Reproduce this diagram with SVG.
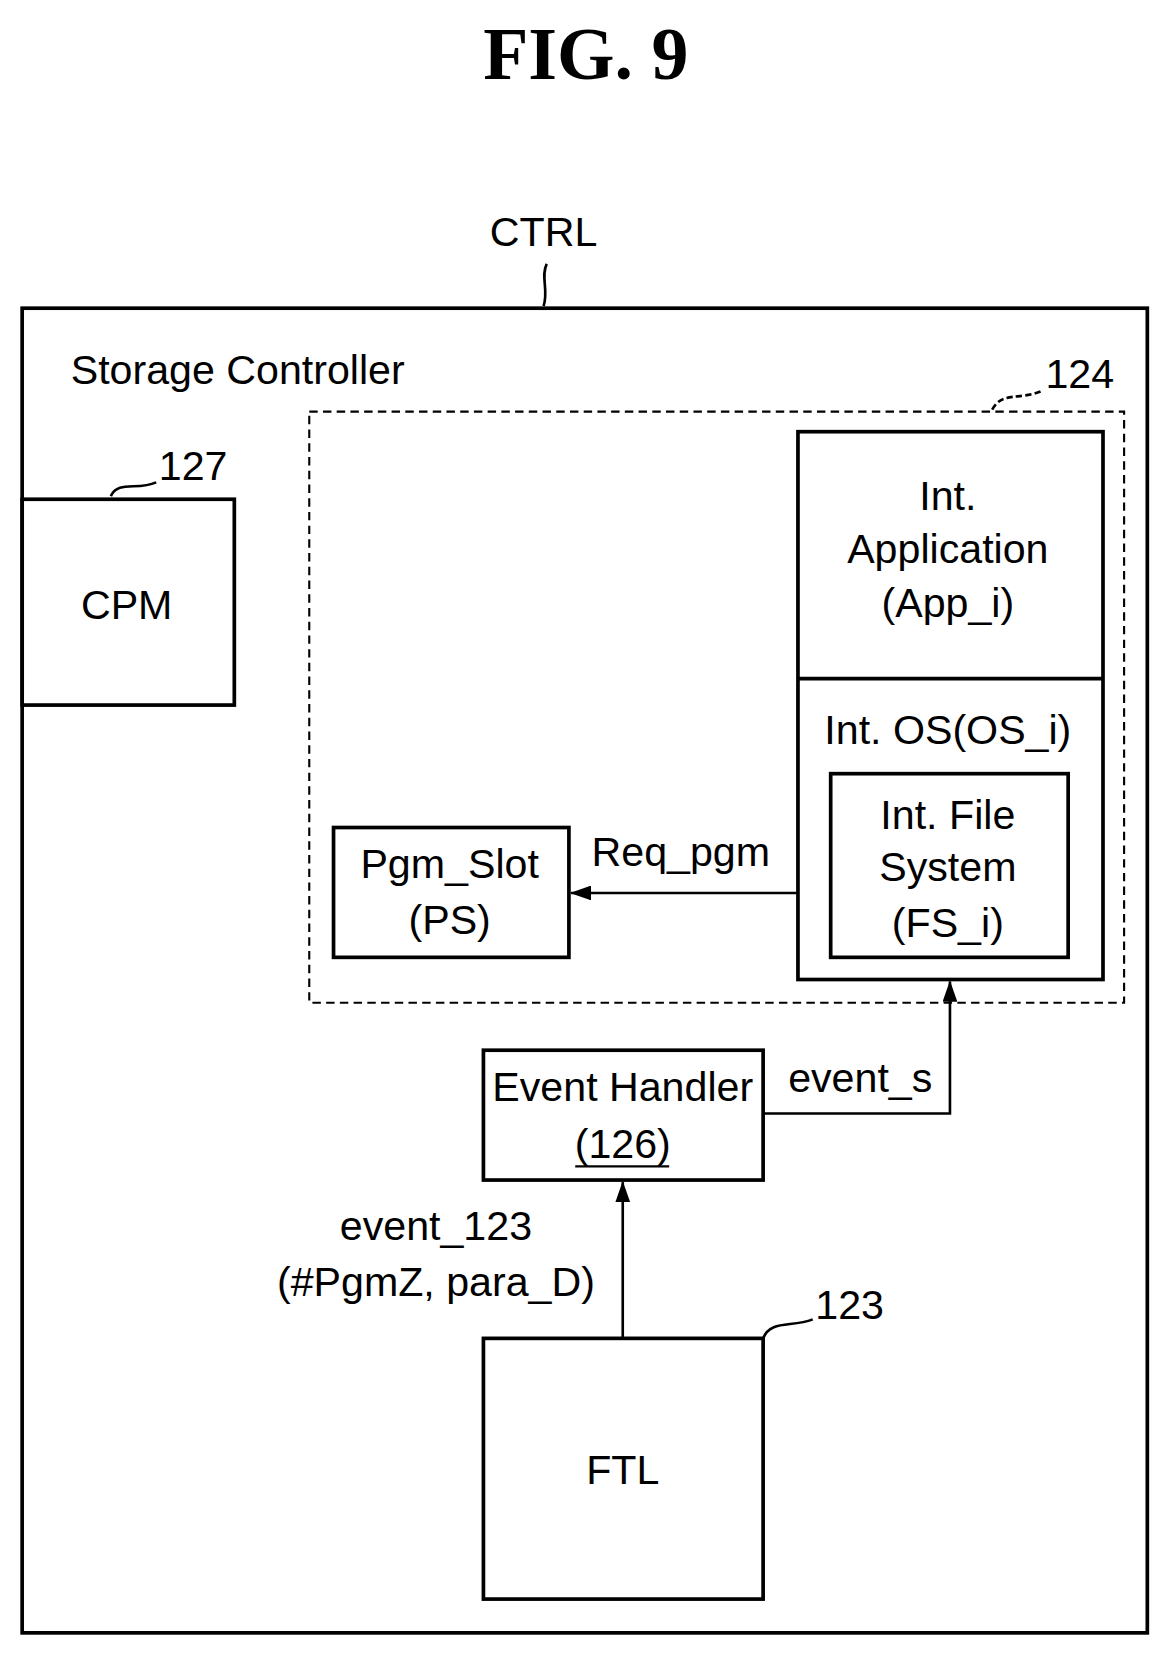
<svg xmlns="http://www.w3.org/2000/svg" width="1169" height="1654" viewBox="0 0 1169 1654">
<defs>
<style>
.t{font-family:"Liberation Sans",Arial,sans-serif;font-size:39px;fill:#000;text-anchor:middle}
.b{fill:none;stroke:#000;stroke-width:3.5}
.l{fill:none;stroke:#000;stroke-width:2.5}
</style>
<marker id="ah" markerWidth="10" markerHeight="8" refX="9" refY="4" orient="auto" markerUnits="userSpaceOnUse" viewBox="0 0 10 8"><path d="M0,0 L10,4 L0,8 Z" fill="#000"/></marker>
<marker id="ah2" markerWidth="20" markerHeight="14" refX="19" refY="7" orient="auto" markerUnits="userSpaceOnUse" viewBox="0 0 20 14"><path d="M0,0 L20,7 L0,14 Z" fill="#000"/></marker>
</defs>
<rect width="1169" height="1654" fill="#fff"/>
<g transform="scale(1.0555)">
<text x="555" y="75" style="font-family:'Liberation Serif',serif;font-weight:bold;font-size:70px;text-anchor:middle">FIG. 9</text>
<g id="ctrl">
<rect class="b" x="21" y="292" width="1066" height="1255" stroke-width="4"/>
<text class="t" x="515" y="233">CTRL</text>
<path class="l" d="M518,250 C512,262 520,275 515,290"/>
<text class="t" x="67" y="364" style="text-anchor:start">Storage Controller</text>
</g>
<g id="n124">
<rect x="293" y="390" width="772" height="560" fill="none" stroke="#000" stroke-width="2" stroke-dasharray="8,5"/>
<text class="t" x="1023" y="368">124</text>
<path class="l" d="M940,388 C950,370 965,380 988,370" stroke-dasharray="6,3"/>
</g>
<g id="cpm">
<rect class="b" x="21" y="473" width="201" height="195"/>
<text class="t" x="120" y="586">CPM</text>
<text class="t" x="183" y="455">127</text>
<path class="l" d="M105,470 C112,455 130,465 148,457"/>
</g>
<g id="app">
<rect class="b" x="756" y="409" width="289" height="519"/>
<line class="b" x1="756" y1="643" x2="1045" y2="643"/>
<text class="t" x="898" y="483">Int.</text>
<text class="t" x="898" y="533">Application</text>
<text class="t" x="898" y="585">(App_i)</text>
<text class="t" x="898" y="705">Int. OS(OS_i)</text>
</g>
<g id="fs">
<rect class="b" x="787" y="733" width="225" height="174"/>
<text class="t" x="898" y="785">Int. File</text>
<text class="t" x="898" y="835">System</text>
<text class="t" x="898" y="888">(FS_i)</text>
</g>
<g id="ps">
<rect class="b" x="316" y="784" width="223" height="123"/>
<text class="t" x="426" y="832">Pgm_Slot</text>
<text class="t" x="426" y="885">(PS)</text>
</g>
<g id="eh">
<rect class="b" x="458" y="995" width="265" height="123"/>
<text class="t" x="590" y="1043">Event Handler</text>
<text class="t" x="590" y="1097">(126)</text>
<line x1="545" y1="1105" x2="634" y2="1105" stroke="#000" stroke-width="2"/>
</g>
<g id="ftl">
<rect class="b" x="458" y="1268" width="265" height="247"/>
<text class="t" x="590" y="1406">FTL</text>
<text class="t" x="805" y="1250">123</text>
<path class="l" d="M723,1268 C730,1250 750,1258 770,1250"/>
</g>
<g id="connectors">
<line class="l" x1="756" y1="846" x2="541" y2="846" marker-end="url(#ah2)"/>
<text class="t" x="645" y="820">Req_pgm</text>
<polyline class="l" points="723,1055 900,1055 900,930" marker-end="url(#ah2)"/>
<text class="t" x="815" y="1035">event_s</text>
<line class="l" x1="590" y1="1268" x2="590" y2="1120" marker-end="url(#ah2)"/>
<text class="t" x="413" y="1175">event_123</text>
<text class="t" x="413" y="1228">(#PgmZ, para_D)</text>
</g>
</g>
</svg>
